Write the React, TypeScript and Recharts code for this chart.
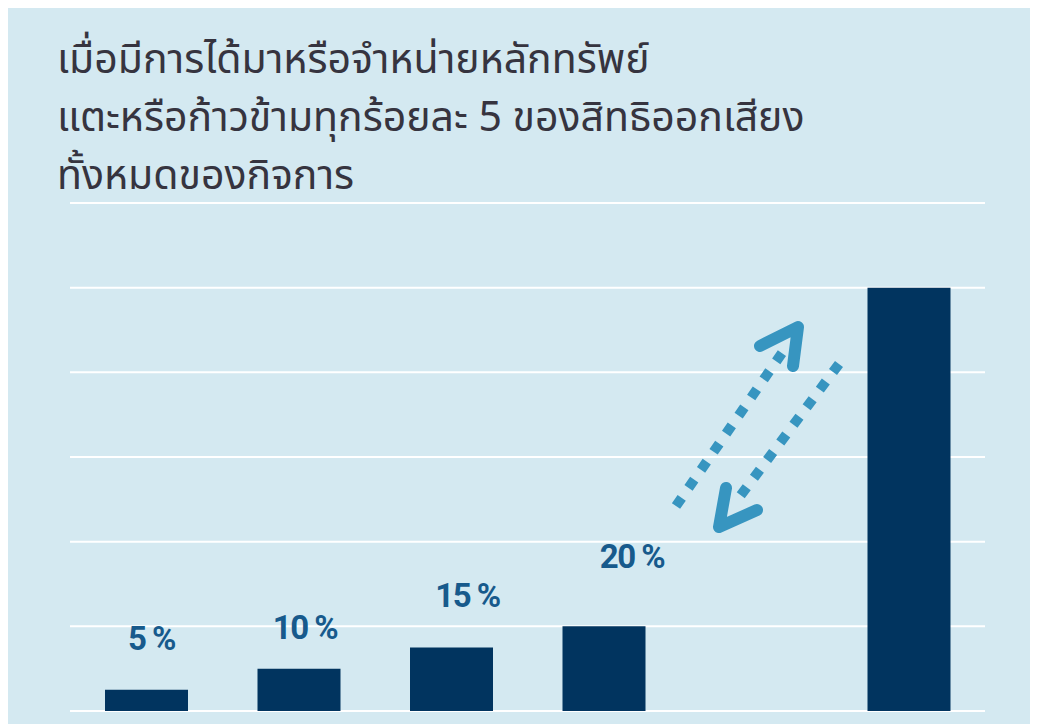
import { BarChart, Bar, XAxis, YAxis, CartesianGrid } from 'recharts';

const CATEGORIES = ['5%', '10%', '15%', '20%', '', '100%'];
const VALUES = [5, 10, 15, 20, null, 100];
const VALUE_LABELS = ['5 %', '10 %', '15 %', '20 %', '', '100 %'];
const Y_TICKS = [0, 20, 40, 60, 80, 100, 120];

const TITLE_LINES = [
  'เมื่อมีการได้มาหรือจำหน่ายหลักทรัพย์',
  'แตะหรือก้าวข้ามทุกร้อยละ 5 ของสิทธิออกเสียง',
  'ทั้งหมดของกิจการ',
];

// label nudges (layout only): dx from bar centre, gap above bar top
const LABEL_DX = [5, 6, 16, 28, 0, -31];
const LABEL_GAP = [40, 30, 41, 58, 0, 34];

const BG = '#d4e9f1';
const BAR_COLOR = '#01345f';
const LABEL_COLOR = '#175a8c';
const ARROW_COLOR = '#3795c0';

const chartData = CATEGORIES.map((c, i) => ({ name: c, value: VALUES[i], label: VALUE_LABELS[i] }));

function ValueLabel(props: any) {
  const { x, y, width, index } = props;
  const text = VALUE_LABELS[index];
  if (!text || x == null) return null;
  return (
    <text
      x={x + width / 2 + LABEL_DX[index]}
      y={y - LABEL_GAP[index]}
      textAnchor="middle"
      fill={LABEL_COLOR}
      fontFamily="Roboto, sans-serif"
      fontWeight={700}
      fontSize={33}
      letterSpacing={-1.5}
    >
      {text}
    </text>
  );
}

export default function App() {
  return (
    <div style={{ position: 'relative', width: 1030, height: 718, marginTop: -2, background: BG }}>
      <div
        style={{
          position: 'absolute',
          left: 49,
          top: 25,
          fontFamily: '"Noto Sans Thai", "Noto Sans Thai UI", "Noto Sans", "DejaVu Sans", sans-serif',
          fontSize: 41,
          lineHeight: '58px',
          color: '#36343f',
          whiteSpace: 'nowrap',
        }}
      >
        {TITLE_LINES.map((l) => (
          <div key={l}>{l}</div>
        ))}
      </div>
      <div style={{ position: 'absolute', left: 0, top: 0 }}>
        <BarChart width={1030} height={718} data={chartData} margin={{ top: 197, right: 53, bottom: 13, left: 62 }}>
          <CartesianGrid vertical={false} stroke="#ffffff" strokeWidth={2} />
          <XAxis dataKey="name" hide />
          <YAxis hide domain={[0, 120]} ticks={Y_TICKS} />
          <Bar dataKey="value" fill={BAR_COLOR} barSize={83} isAnimationActive={false} label={<ValueLabel />} />
        </BarChart>
      </div>
      <svg width={1030} height={718} style={{ position: 'absolute', left: 0, top: 0, pointerEvents: 'none' }}>
        <g transform="translate(-8,-6)" stroke={ARROW_COLOR} fill="none">
          <line x1={676} y1={506} x2={782} y2={353} strokeWidth={10} strokeDasharray="10 12" />
          <polyline points="760,346 798,327 793,366" strokeWidth={12} strokeLinecap="round" strokeLinejoin="round" />
          <line x1={839} y1={364} x2={738} y2={499} strokeWidth={10} strokeDasharray="10 12" />
          <polyline points="726,488 719,527 757,510" strokeWidth={12} strokeLinecap="round" strokeLinejoin="round" />
        </g>
      </svg>
    </div>
  );
}
